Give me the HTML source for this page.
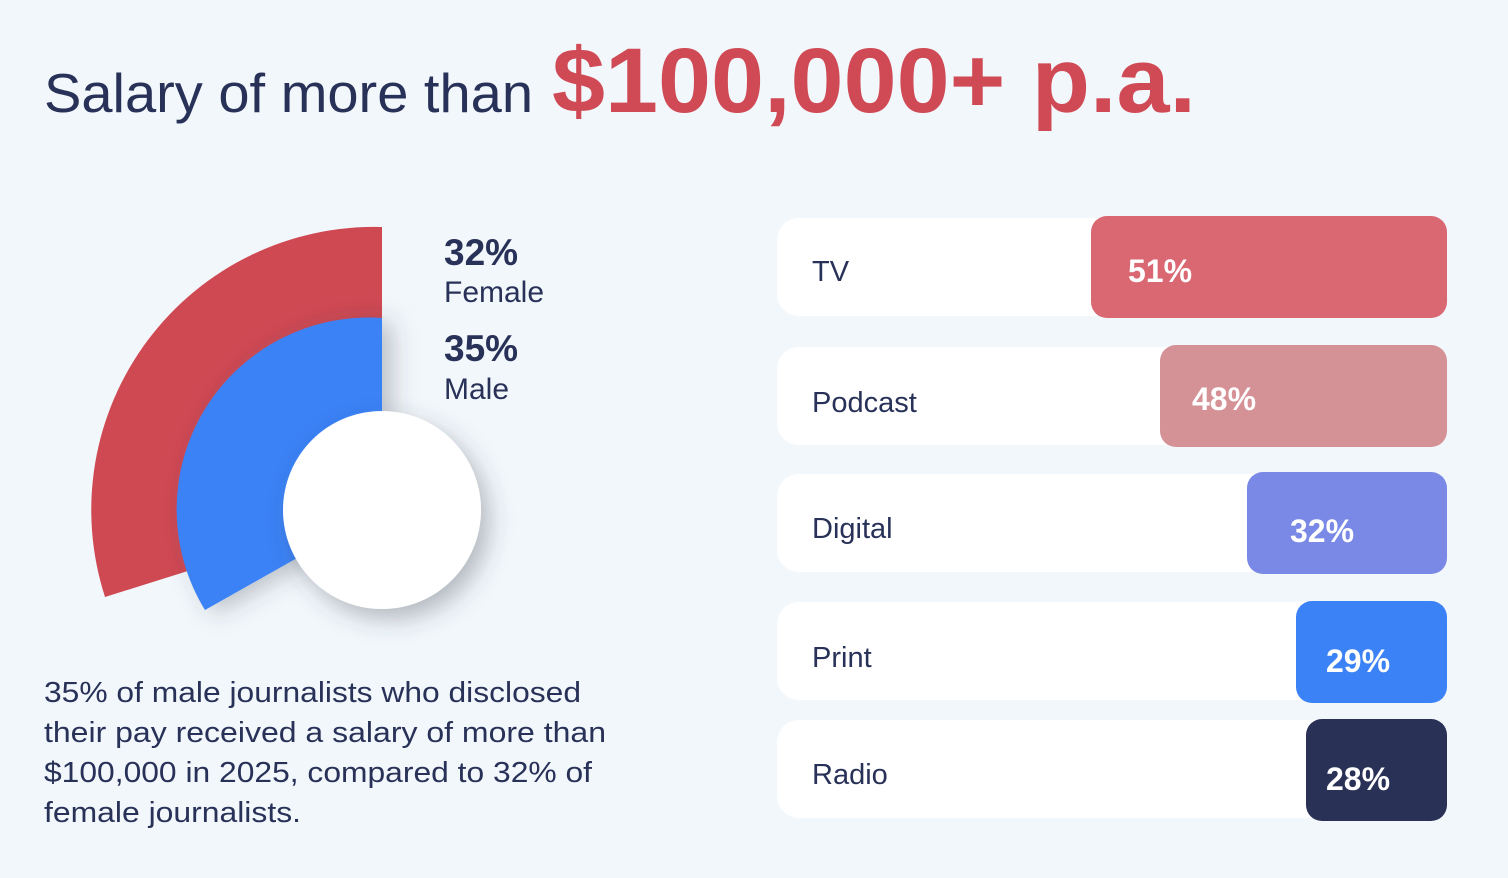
<!DOCTYPE html>
<html><head><meta charset="utf-8"><style>
html,body{margin:0;padding:0;background:#f2f7fb;}
svg{display:block;}
text{font-family:"Liberation Sans",sans-serif;}
</style></head><body>
<svg width="1508" height="878" viewBox="0 0 1508 878" xmlns="http://www.w3.org/2000/svg">
<defs>
<filter id="sh" x="-50%" y="-50%" width="200%" height="200%"><feDropShadow dx="8" dy="10" stdDeviation="12" flood-color="#3a4250" flood-opacity="0.35"/></filter>
<filter id="sh2" x="-50%" y="-50%" width="200%" height="200%"><feDropShadow dx="10" dy="4" stdDeviation="12" flood-color="#3a4250" flood-opacity="0.3"/></filter>
</defs>
<rect width="1508" height="878" fill="#f2f7fb"/>
<text x="44" y="112" font-size="55" fill="#283157" textLength="489" lengthAdjust="spacingAndGlyphs">Salary of more than</text>
<text x="552" y="112" font-size="92" font-weight="bold" fill="#d04a55" textLength="644" lengthAdjust="spacingAndGlyphs">$100,000+ p.a.</text>

<path d="M382,510 L382,227 A283,283 0 0 0 105,597 Z" fill="#cf4953"/>
<path d="M382,510 L382,318 A192,192 0 0 0 205,610 Z" fill="#3b82f6" filter="url(#sh2)"/>
<circle cx="382" cy="510" r="99" fill="#ffffff" filter="url(#sh)"/>

<text x="444" y="265" font-size="37" font-weight="bold" fill="#283157">32%</text>
<text x="444" y="302" font-size="30" fill="#283157">Female</text>
<text x="444" y="361" font-size="37" font-weight="bold" fill="#283157">35%</text>
<text x="444" y="399" font-size="30" fill="#283157">Male</text>

<g font-size="29" fill="#283157">
<text x="44" y="702" textLength="537" lengthAdjust="spacingAndGlyphs">35% of male journalists who disclosed</text>
<text x="44" y="742" textLength="562" lengthAdjust="spacingAndGlyphs">their pay received a salary of more than</text>
<text x="44" y="782" textLength="548" lengthAdjust="spacingAndGlyphs">$100,000 in 2025, compared to 32% of</text>
<text x="44" y="822" textLength="257" lengthAdjust="spacingAndGlyphs">female journalists.</text>
</g>

<g>
<rect x="777" y="218" width="670" height="98" rx="22" fill="#fff"/>
<rect x="1091" y="216" width="356" height="102" rx="16" fill="#d96873"/>
<text x="812" y="281" font-size="29" fill="#283157">TV</text>
<text x="1128" y="282" font-size="32" font-weight="bold" fill="#fff">51%</text>

<rect x="777" y="347" width="670" height="98" rx="22" fill="#fff"/>
<rect x="1160" y="345" width="287" height="102" rx="16" fill="#d49196"/>
<text x="812" y="412" font-size="29" fill="#283157">Podcast</text>
<text x="1192" y="410" font-size="32" font-weight="bold" fill="#fff">48%</text>

<rect x="777" y="474" width="670" height="98" rx="22" fill="#fff"/>
<rect x="1247" y="472" width="200" height="102" rx="16" fill="#7a88e6"/>
<text x="812" y="538" font-size="29" fill="#283157">Digital</text>
<text x="1290" y="542" font-size="32" font-weight="bold" fill="#fff">32%</text>

<rect x="777" y="602" width="670" height="98" rx="22" fill="#fff"/>
<rect x="1296" y="601" width="151" height="102" rx="16" fill="#3b82f6"/>
<text x="812" y="667" font-size="29" fill="#283157">Print</text>
<text x="1326" y="672" font-size="32" font-weight="bold" fill="#fff">29%</text>

<rect x="777" y="720" width="670" height="98" rx="22" fill="#fff"/>
<rect x="1306" y="719" width="141" height="102" rx="16" fill="#2a3157"/>
<text x="812" y="784" font-size="29" fill="#283157">Radio</text>
<text x="1326" y="790" font-size="32" font-weight="bold" fill="#fff">28%</text>
</g>
</svg>
</body></html>
